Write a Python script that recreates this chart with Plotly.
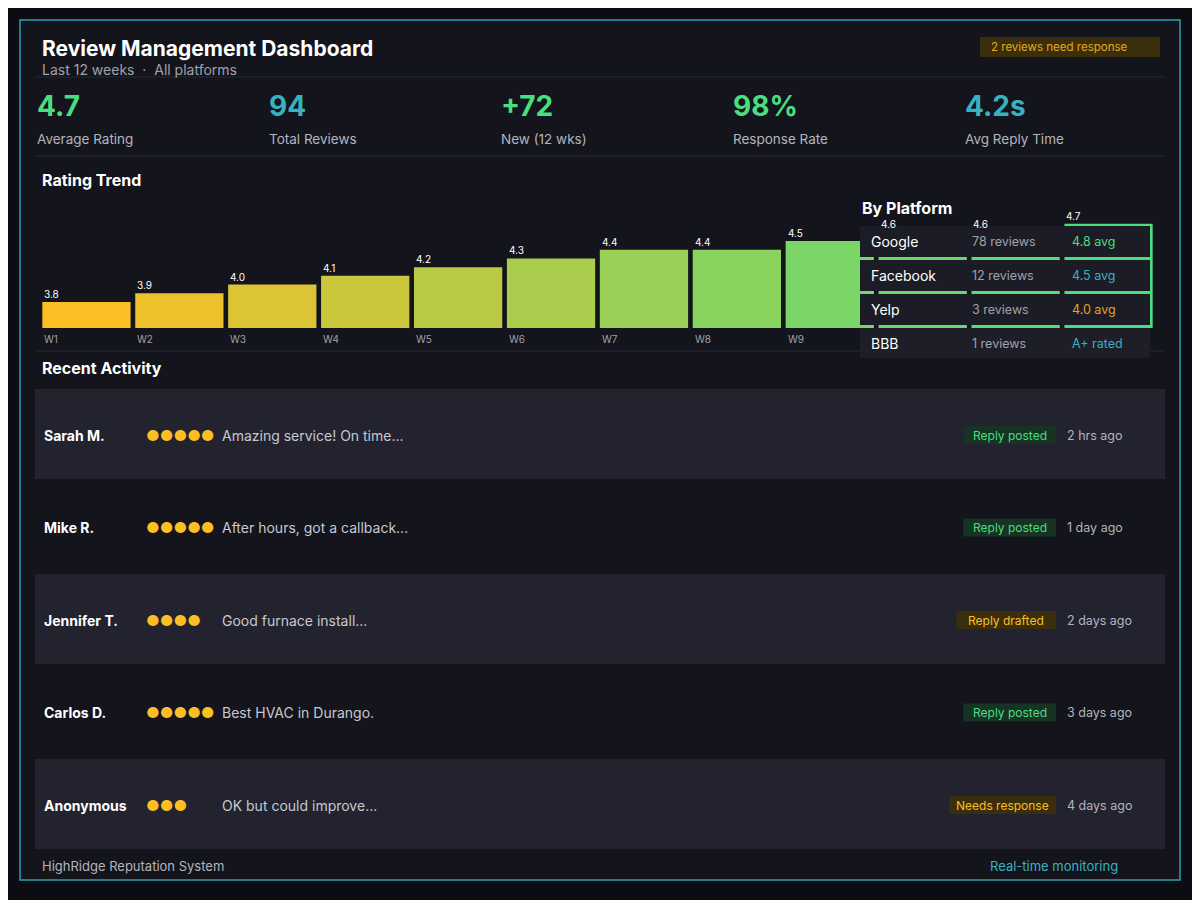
import plotly.graph_objects as go

weeks = ["W1","W2","W3","W4","W5","W6","W7","W8","W9","W10","W11","W12"]
ratings = [3.8,3.9,4.0,4.1,4.2,4.3,4.4,4.4,4.5,4.6,4.6,4.7]

kpi_values = ["4.7","94","+72","98%","4.2s"]
kpi_labels = ["Average Rating","Total Reviews","New (12 wks)","Response Rate","Avg Reply Time"]
kpi_colors = ["#4ade80","#38b2c0","#4ade80","#4ade80","#38b2c0"]

platforms = ["Google","Facebook","Yelp","BBB"]
platform_reviews = ["78 reviews","12 reviews","3 reviews","1 reviews"]
platform_avg = ["4.8 avg","4.5 avg","4.0 avg","A+ rated"]
platform_colors = ["#4ade80","#38b2c0","#e8a21c","#38b2c0"]

names = ["Sarah M.","Mike R.","Jennifer T.","Carlos D.","Anonymous"]
stars = [5,5,4,5,3]
snippets = ["Amazing service! On time...","After hours, got a callback...","Good furnace install...","Best HVAC in Durango.","OK but could improve..."]
statuses = ["Reply posted","Reply posted","Reply drafted","Reply posted","Needs response"]
times = ["2 hrs ago","1 day ago","2 days ago","3 days ago","4 days ago"]

OFF = 8
W, H = 1200 - OFF, 900 - OFF
def px(x): return (x - OFF) / W
def py(y): return 1 - (y - OFF) / H

def lerp(c1, c2, t):
    a = [int(c1[i:i+2], 16) for i in (1,3,5)]
    b = [int(c2[i:i+2], 16) for i in (1,3,5)]
    return "#%02x%02x%02x" % tuple(round(a[k] + (b[k]-a[k])*t) for k in range(3))

n = len(weeks)
bar_colors = [lerp("#fbbf24", "#4ade80", i/(n-1)) for i in range(n)]

FONT = "Inter"
fig = go.Figure()
fig.add_trace(go.Bar(x=list(range(n)), y=ratings, marker=dict(color=bar_colors, line=dict(width=0)),
                     hoverinfo="skip"))
fig.update_layout(
    width=W, height=H, margin=dict(l=0, r=0, t=0, b=0),
    paper_bgcolor="#0b0d12", plot_bgcolor="rgba(0,0,0,0)",
    bargap=0.05, showlegend=False, font=dict(family=FONT, color="#e5e7eb"),
    xaxis=dict(domain=[px(40), px(1155)], range=[-0.5, n-0.5], visible=False, fixedrange=True),
    yaxis=dict(domain=[py(328), py(195)], range=[3.5, 5.03], visible=False, fixedrange=True),
)

shapes = []
ann = []
def rect(x0, y0, x1, y1, fill, line=None, lw=0, layer="below"):
    shapes.append(dict(type="rect", xref="paper", yref="paper", x0=px(x0), x1=px(x1), y0=py(y1), y1=py(y0),
                       fillcolor=fill, line=dict(color=line or fill, width=lw), layer=layer))
def text(x, y, s, size, color, bold=False, anchor="left"):
    ann.append(dict(xref="paper", yref="paper", x=px(x), y=py(y), text=("<b>%s</b>" % s) if bold else s,
                    showarrow=False, xanchor=anchor, yanchor="middle",
                    font=dict(size=size, color=color, family=FONT)))

# card
shapes.append(dict(type="rect", xref="paper", yref="paper", x0=px(20), x1=px(1180), y0=py(880), y1=py(20),
                   fillcolor="#13141c", line=dict(color="#2a9fb0", width=1.5), layer="below"))
# header
text(40, 48, "Review Management Dashboard", 21, "#ffffff", True)
text(40, 69, "Last 12 weeks  ·  All platforms", 14, "#a1a1aa")
rect(980, 37, 1160, 57, "#3a2e0c")
text(1059, 47, "2 reviews need response", 11.5, "#e8a917", anchor="center")
for yy in (77, 156, 351):
    shapes.append(dict(type="line", xref="paper", yref="paper", x0=px(35), x1=px(1165), y0=py(yy), y1=py(yy),
                       line=dict(color="#262833", width=1), layer="below"))
# KPIs
for i in range(5):
    x0 = 35 + i*232
    text(x0, 106, kpi_values[i], 28, kpi_colors[i], True)
    text(x0, 139, kpi_labels[i], 13.5, "#b4b4bc")
# rating trend
text(40, 180, "Rating Trend", 16, "#ffffff", True)
for i in range(n):
    ann.append(dict(xref="x", yref="y", x=i-0.475, y=ratings[i], text="%.1f" % ratings[i], showarrow=False,
                    xanchor="left", yanchor="bottom", yshift=0, font=dict(size=10, color="#ffffff", family=FONT)))
    if i < 9:  # W10-W12 labels are hidden under the platform panel
        ann.append(dict(xref="x", yref="paper", x=i-0.475, y=py(339), text=weeks[i], showarrow=False,
                        xanchor="left", yanchor="middle", font=dict(size=10, color="#a1a1aa", family=FONT)))
# platform panel
text(860, 208, "By Platform", 16, "#ffffff", True)
rect(860, 328, 1150, 358, "#1d1e28", layer="above")
for i in range(4):
    y0 = 226 + i*34
    if i < 3:
        rect(860, y0, 1150, y0+31, "#1b1c25", layer="above")
    yc = y0 + 15.5
    text(869, yc, platforms[i], 14, "#ffffff")
    text(970, yc, platform_reviews[i], 12.5, "#a1a1aa")
    text(1070, yc, platform_avg[i], 12.5, platform_colors[i])
# recent activity
text(40, 368, "Recent Activity", 16, "#ffffff", True)
pill = {"Reply posted": ("#163324", "#4ade80"), "Reply drafted": ("#3a2e0c", "#fbbf24"),
        "Needs response": ("#3a2e0c", "#fbbf24")}
for i in range(5):
    y0 = 389 + i*92.5
    if i % 2 == 0:
        rect(35, y0, 1165, y0+90, "#22232f")
    yc = y0 + 46
    text(42, yc, names[i], 14, "#ffffff", True)
    text(144, yc, "●"*stars[i], 15, "#fbbf24")
    text(220, yc, snippets[i], 14, "#c8c8d0")
    bg, fg = pill[statuses[i]]
    w = 6.9*len(statuses[i]) + 10
    rect(1056-w, yc-9, 1056, yc+9, bg)
    text(1056-w/2, yc, statuses[i], 12, fg, anchor="center")
    text(1065, yc, times[i], 12.5, "#b4b4bc")
# footer
text(40, 866, "HighRidge Reputation System", 13, "#b4b4bc")
text(1120, 866, "Real-time monitoring", 13, "#38b2c0", anchor="right")

fig.update_layout(shapes=shapes, annotations=ann)
fig.write_html("out.html", config={"displayModeBar": False})
